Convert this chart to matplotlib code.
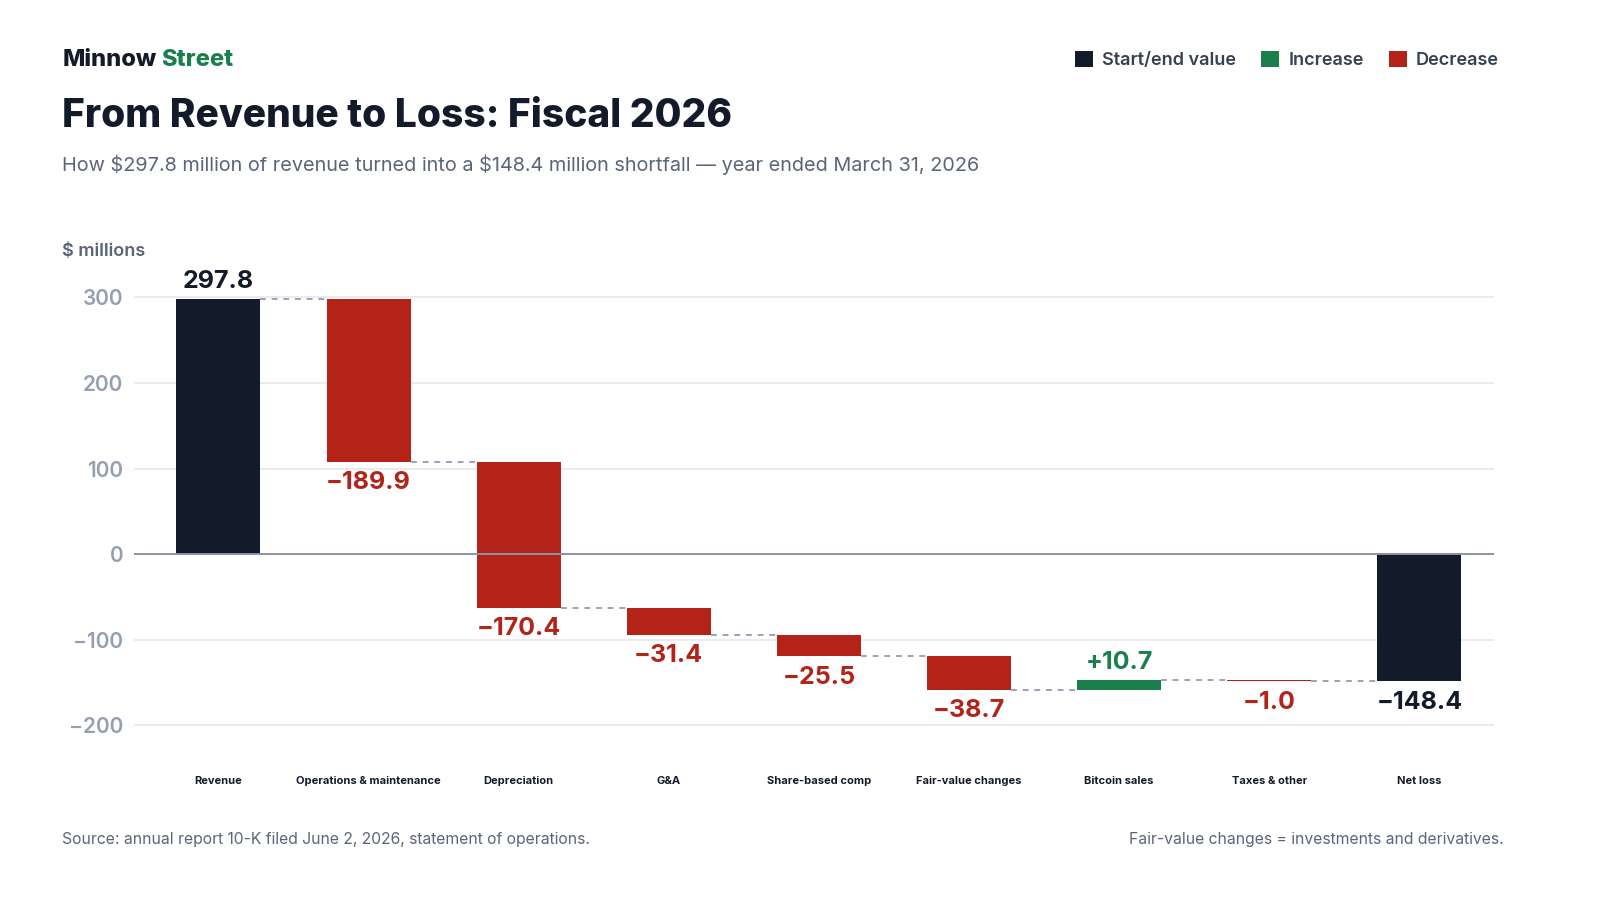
import matplotlib.pyplot as plt
from matplotlib.patches import Patch

plt.rcParams['font.family'] = ['Inter', 'DejaVu Sans']

# data
steps = ['Revenue', 'Operations & maintenance', 'Depreciation', 'G&A', 'Share-based comp',
         'Fair-value changes', 'Bitcoin sales', 'Taxes & other', 'Net loss']
changes = [297.8, -189.9, -170.4, -31.4, -25.5, -38.7, 10.7, -1.0, -148.4]
kinds = ['total', 'delta', 'delta', 'delta', 'delta', 'delta', 'delta', 'delta', 'total']
y_ticks = [-200, -100, 0, 100, 200, 300]

DARK = '#131a29'
RED = '#b32318'
GREEN = '#1b7f4c'
GRID = '#e6e8ec'
MUTED = '#5b6478'
TICK = '#959fb1'

fig = plt.figure(figsize=(16, 9), dpi=100)
ax = fig.add_axes([0.084, 0.156, 0.85, 0.542])

running = 0.0
bottoms, heights, colors, ends = [], [], [], []
for val, kind in zip(changes, kinds):
    if kind == 'total':
        bottoms.append(0)
        heights.append(val)
        colors.append(DARK)
        running = val
    else:
        bottoms.append(running)
        heights.append(val)
        colors.append(GREEN if val > 0 else RED)
        running = running + val
    ends.append(running)

x = list(range(len(steps)))
ax.bar(x, heights, bottom=bottoms, width=0.56, color=colors, zorder=3)

# connectors
for i in range(len(steps) - 1):
    ax.plot([i + 0.28, i + 1 - 0.28], [ends[i], ends[i]], color='#9aa3b5',
            linestyle=(0, (3, 3)), linewidth=1.4, zorder=2)

# value labels
for i, (val, kind) in enumerate(zip(changes, kinds)):
    top = max(bottoms[i], bottoms[i] + heights[i])
    bot = min(bottoms[i], bottoms[i] + heights[i])
    if kind == 'total':
        txt = f'{val:.1f}'.replace('-', '\u2212')
        col = DARK
    elif val > 0:
        txt = f'+{val:.1f}'
        col = GREEN
    else:
        txt = f'\u2212{abs(val):.1f}'
        col = RED
    if val > 0:
        ax.text(i, top + 8, txt, ha='center', va='bottom', fontsize=18,
                fontweight='bold', color=col)
    else:
        ax.text(i, bot - 11, txt, ha='center', va='top', fontsize=18,
                fontweight='bold', color=col)

ax.set_xlim(-0.56, 8.5)
ax.set_ylim(-240, 330)
ax.set_yticks(y_ticks)
ax.set_yticklabels([f'{t}'.replace('-', '\u2212') for t in y_ticks],
                   fontsize=15, color=TICK, fontweight='semibold')
ax.set_xticks(x)
ax.set_xticklabels(steps, fontsize=8, fontweight='bold', color=DARK)
ax.tick_params(axis='x', length=0, pad=12)
ax.tick_params(axis='y', length=0, pad=8)
for t in y_ticks:
    if t != 0:
        ax.axhline(t, color=GRID, linewidth=1.2, zorder=1)
ax.axhline(0, color='#8a93a3', linewidth=1.4, zorder=4)
for s in ax.spines.values():
    s.set_visible(False)

# header
fig.text(0.039, 0.933, 'Minnow', fontsize=17, fontweight='heavy', color=DARK, va='center')
fig.text(0.1005, 0.933, 'Street', fontsize=17, fontweight='heavy', color=GREEN, va='center')
fig.text(0.039, 0.871, 'From Revenue to Loss: Fiscal 2026', fontsize=28,
         fontweight='heavy', color=DARK, va='center')
fig.text(0.039, 0.817,
         'How \\$297.8 million of revenue turned into a \\$148.4 million shortfall \u2014 year ended March 31, 2026',
         fontsize=14.3, color=MUTED, va='center')
fig.text(0.039, 0.72, '\\$ millions', fontsize=13, fontweight='semibold', color=MUTED, va='center')

handles = [Patch(facecolor=DARK, label='Start/end value'),
           Patch(facecolor=GREEN, label='Increase'),
           Patch(facecolor=RED, label='Decrease')]
leg = fig.legend(handles=handles, loc='center right', bbox_to_anchor=(0.947, 0.933), ncol=3,
                 frameon=False, fontsize=13, handlelength=1.0, handleheight=1.0,
                 handletextpad=0.5, columnspacing=1.4)
for t in leg.get_texts():
    t.set_color('#374151')
    t.set_fontweight('semibold')

fig.text(0.039, 0.067, 'Source: annual report 10-K filed June 2, 2026, statement of operations.',
         fontsize=11.3, color=MUTED, va='center')
fig.text(0.94, 0.067, 'Fair-value changes = investments and derivatives.',
         fontsize=11.3, color=MUTED, va='center', ha='right')

fig.savefig('out.png', dpi=100, facecolor='white')
